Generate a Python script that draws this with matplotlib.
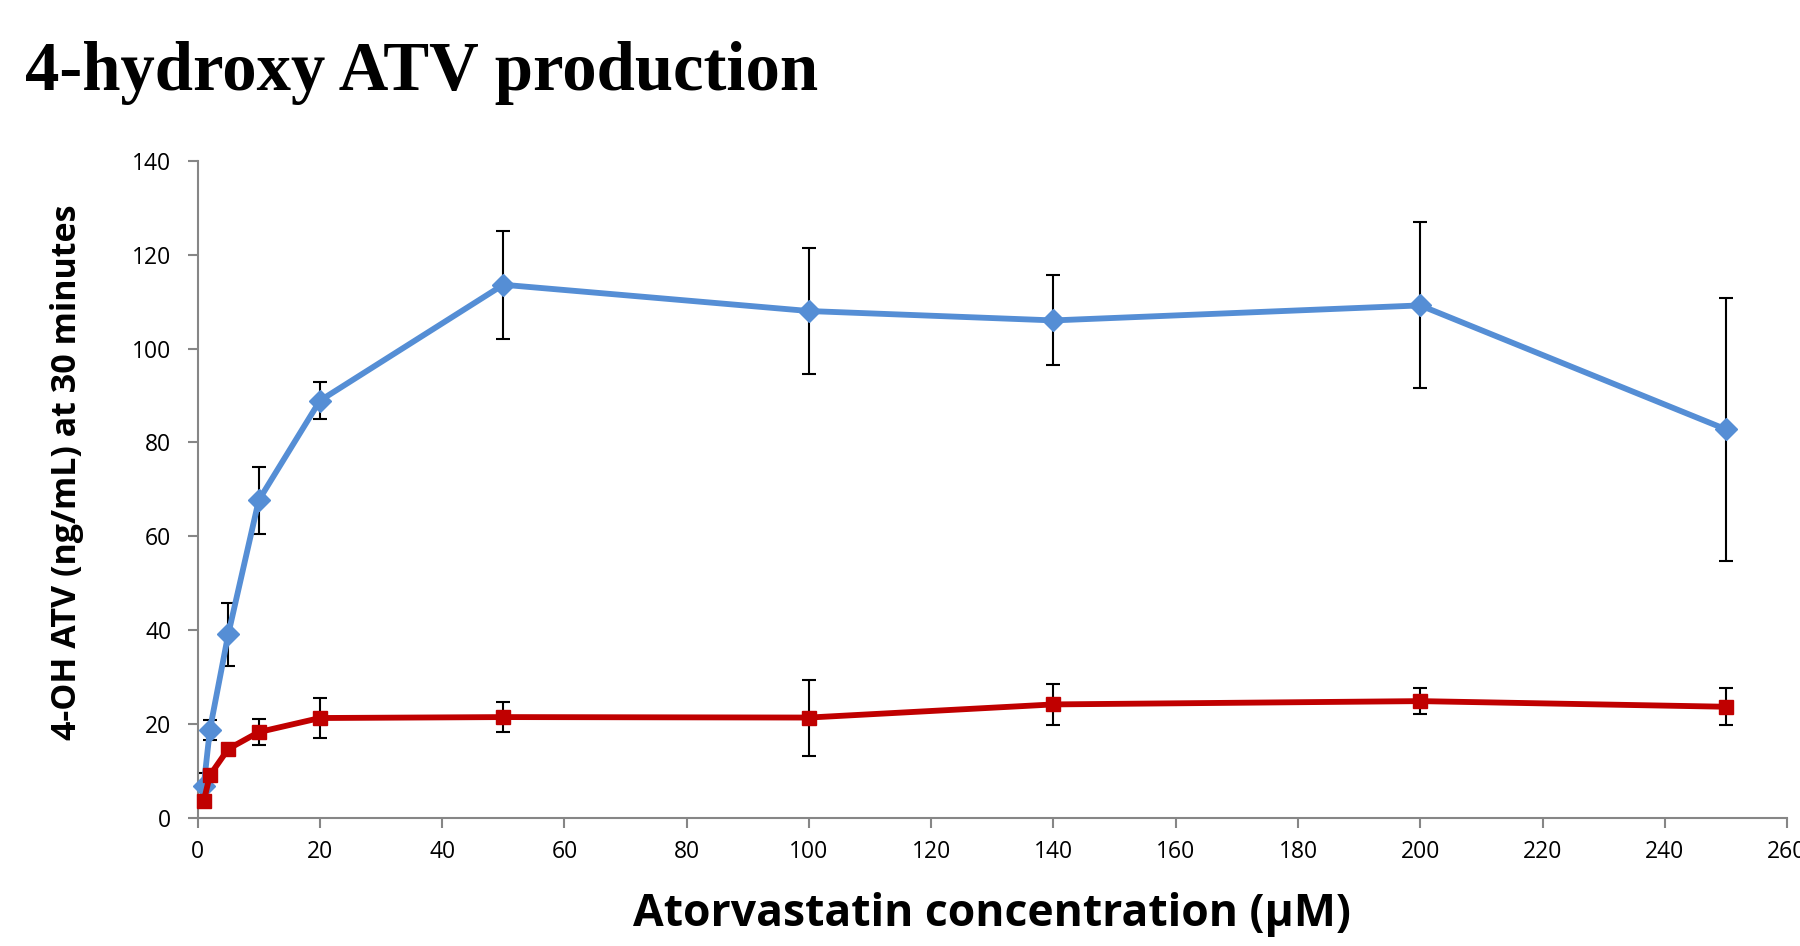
import matplotlib
matplotlib.use("Agg")
import matplotlib.pyplot as plt

# atorvastatin concentration (uM)
conc = [1, 2, 5, 10, 20, 50, 100, 140, 200, 250]

# 4-OH ATV (ng/mL) at 30 min, two series
blue_mean = [6.9, 18.8, 39.1, 67.7, 88.9, 113.6, 108.0, 106.0, 109.2, 82.8]
blue_err = [2.6, 2.1, 6.7, 7.1, 3.9, 11.5, 13.5, 9.6, 17.7, 28.0]
red_mean = [3.6, 9.1, 14.7, 18.3, 21.3, 21.5, 21.4, 24.2, 24.9, 23.7]
red_err = [0.0, 0.0, 0.0, 2.8, 4.2, 3.2, 8.1, 4.3, 2.7, 3.9]

BLUE, RED, GREY = "#558ED5", "#C00000", "#868686"

fig = plt.figure(figsize=(18, 9.46), dpi=100)
ax = fig.add_axes([0.1098, 0.1353, 0.883, 0.6947])

for mean, err, col, mk, ms, z in [(blue_mean, blue_err, BLUE, "D", 11.5, 3),
                                   (red_mean, red_err, RED, "s", 10, 5)]:
    ax.errorbar(conc, mean, yerr=err, fmt="none", ecolor="black",
                elinewidth=1.5, capsize=5, capthick=1.5, zorder=z - 1)
    ax.plot(conc, mean, color=col, lw=4.2, marker=mk, ms=ms, zorder=z,
            clip_on=False)

ax.set_xlim(0, 260)
ax.set_ylim(0, 140)
ax.set_xticks(range(0, 261, 20))
ax.set_yticks(range(0, 141, 20))

for s in ["top", "right"]:
    ax.spines[s].set_visible(False)
for s in ["left", "bottom"]:
    ax.spines[s].set_color(GREY)
    ax.spines[s].set_linewidth(1.5)
ax.tick_params(colors=GREY, length=7, width=1.5, labelcolor="black",
               labelsize=16.5)
ax.tick_params(axis="x", pad=9)
ax.tick_params(axis="y", pad=12)
for lab in ax.get_xticklabels() + ax.get_yticklabels():
    lab.set_family("Open Sans")

ax.set_xlabel("Atorvastatin concentration (µM)", fontsize=32,
              fontweight="bold", family="Open Sans", labelpad=20)
ax.set_ylabel("4-OH ATV (ng/mL) at 30 minutes", fontsize=24.5,
              fontweight="bold", family="Open Sans")
ax.yaxis.set_label_coords(-0.0716, 0.526)

fig.text(0.014, 0.905, "4-hydroxy ATV production", fontsize=49.5,
         fontweight="bold", family="Liberation Serif", va="baseline")

fig.savefig("out.png", dpi=100)
